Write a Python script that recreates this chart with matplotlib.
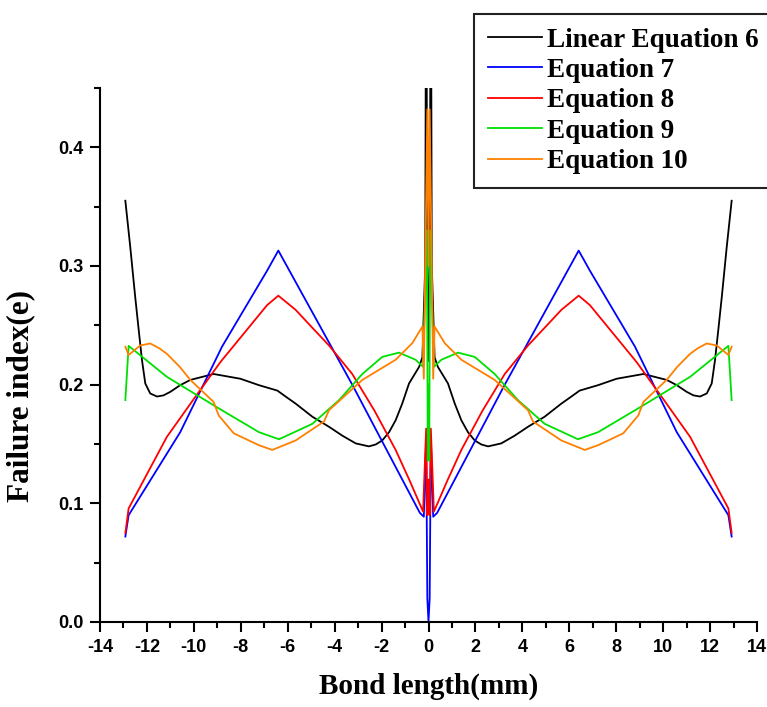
import numpy as np
import matplotlib
matplotlib.use("Agg")
import matplotlib.pyplot as plt
from matplotlib.ticker import MultipleLocator, FormatStrFormatter

plt.rcParams['axes.unicode_minus'] = False

# Right half of each (symmetric) curve: x >= 0
x_eq6 = [0.0, 0.05, 0.1, 0.14, 0.26, 0.40, 0.83, 1.12, 1.40, 1.68, 1.97, 2.25, 2.54, 3.10, 3.67, 4.24,
         4.95, 5.66, 6.09, 6.44, 7.23, 8.02, 9.16, 10.15, 10.58, 11.0, 11.29, 11.57, 11.86, 12.07,
         12.21, 12.35, 12.5, 12.64, 12.71, 12.92]
y_eq6 = [0.22, 0.30, 0.60, 0.30, 0.223, 0.215, 0.201, 0.184, 0.170, 0.160, 0.153, 0.1496, 0.148, 0.1505,
         0.157, 0.1645, 0.173, 0.184, 0.190, 0.195, 0.1996, 0.205, 0.209, 0.204, 0.1996, 0.194, 0.191,
         0.190, 0.1926, 0.201, 0.2206, 0.246, 0.274, 0.302, 0.316, 0.355]

x_eq7 = [0.0, 0.05, 0.1, 0.2, 0.37, 3.25, 6.40, 6.88, 8.8, 10.58, 12.78, 12.92]
y_eq7 = [0.0, 0.02, 0.155, 0.0887, 0.092, 0.200, 0.313, 0.296, 0.232, 0.160, 0.090, 0.072]

x_eq8 = [0.0, 0.05, 0.1, 0.23, 0.8, 1.40, 2.3, 3.25, 4.24, 5.0, 5.66, 6.40, 6.88, 8.87, 10.0, 11.15,
         12.78, 12.92]
y_eq8 = [0.12, 0.09, 0.163, 0.093, 0.119, 0.145, 0.178, 0.209, 0.233, 0.249, 0.263, 0.275, 0.267,
         0.219, 0.188, 0.156, 0.0957, 0.075]

x_eq9 = [0.0, 0.03, 0.07, 0.23, 0.55, 1.26, 1.97, 2.82, 3.81, 4.95, 6.37, 7.23, 9.02, 11.15, 12.78, 12.92]
y_eq9 = [0.20, 0.136, 0.33, 0.215, 0.221, 0.227, 0.2234, 0.209, 0.187, 0.167, 0.154, 0.160, 0.181,
         0.2066, 0.2327, 0.187]

x_eq10 = [0.0, 0.05, 0.2, 0.26, 0.69, 1.40, 2.82, 4.24, 4.45, 5.66, 6.66, 7.23, 8.30, 8.94, 9.16,
          10.15, 10.6, 11.15, 11.5, 11.86, 12.29, 12.78, 12.92]
y_eq10 = [0.30, 0.432, 0.205, 0.249, 0.235, 0.221, 0.204, 0.1785, 0.169, 0.153, 0.145, 0.149, 0.159,
          0.174, 0.1855, 0.204, 0.215, 0.226, 0.231, 0.2347, 0.233, 0.225, 0.232]

labels = ["Linear Equation 6", "Equation 7", "Equation 8", "Equation 9", "Equation 10"]
colors = ["#000000", "#0000ff", "#ff0000", "#00e000", "#ff8000"]
x_ticks = list(range(-14, 15, 2))
y_ticks = [0.0, 0.1, 0.2, 0.3, 0.4]


def full(xh, yh):
    xh = np.asarray(xh, float)
    yh = np.asarray(yh, float)
    xs = np.concatenate([-xh[::-1], xh[1:]])
    ys = np.concatenate([yh[::-1], yh[1:]])
    return xs, ys


fig = plt.figure(figsize=(7.67, 7.07), dpi=100)
ax = fig.add_axes([100 / 767, 85 / 707, 657 / 767, 534 / 707])

series = [(x_eq6, y_eq6), (x_eq7, y_eq7), (x_eq8, y_eq8), (x_eq9, y_eq9), (x_eq10, y_eq10)]
for (xh, yh), lab, c in zip(series, labels, colors):
    xs, ys = full(xh, yh)
    ax.plot(xs, ys, color=c, lw=1.3, label=lab)

ax.set_xlim(-14, 14)
ax.set_ylim(0, 0.45)
ax.set_xticks(x_ticks)
ax.set_yticks(y_ticks)
ax.xaxis.set_minor_locator(MultipleLocator(1))
ax.yaxis.set_minor_locator(MultipleLocator(0.05))
ax.yaxis.set_major_formatter(FormatStrFormatter('%.1f'))

for side in ["top", "right"]:
    ax.spines[side].set_visible(False)
for side in ["left", "bottom"]:
    ax.spines[side].set_linewidth(1.5)

ax.tick_params(which='major', direction='out', length=7, width=1.5, pad=5)
ax.tick_params(which='minor', direction='out', length=4, width=1.5)

for lbl in ax.get_xticklabels() + ax.get_yticklabels():
    lbl.set_fontfamily(['Liberation Sans Narrow', 'Liberation Sans', 'DejaVu Sans'])
    lbl.set_fontweight('bold')
    lbl.set_fontsize(13)

serif = ['Liberation Serif', 'DejaVu Serif']
ax.set_xlabel("Bond length(mm)", fontdict=dict(family=serif, weight='bold', size=21), labelpad=12)
ax.set_ylabel("Failure index(e)", fontdict=dict(family=serif, weight='bold', size=22.5))
ax.yaxis.set_label_coords(-0.099, 0.423)

leg = fig.legend(loc='upper left', bbox_to_anchor=(474 / 767, 1 - 14 / 707),
                 prop=dict(family=serif, weight='bold', size=19.5),
                 frameon=True, fancybox=False, edgecolor='#222222', framealpha=1,
                 handlelength=2.0, handletextpad=0.2, labelspacing=0.2, borderpad=0.5,
                 borderaxespad=0)
leg.get_frame().set_linewidth(1.5)

fig.savefig("out.png", dpi=100)
